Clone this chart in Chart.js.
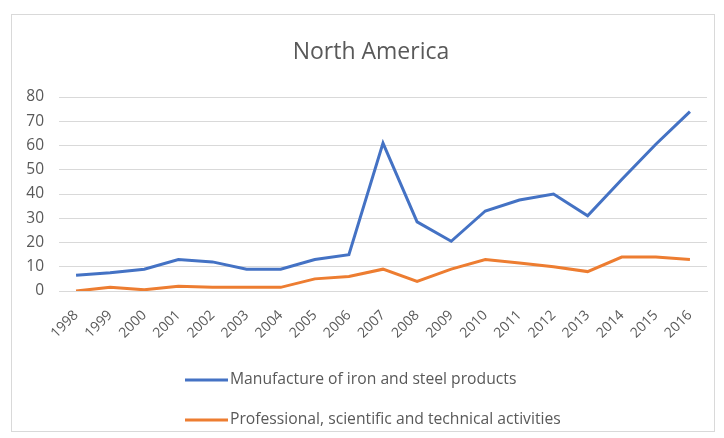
<!DOCTYPE html>
<html>
<head>
<meta charset="utf-8">
<script src="https://cdn.jsdelivr.net/npm/chart.js@4"></script>
<style>
  html, body { margin: 0; padding: 0; background: #fff; }
  #wrap { position: relative; width: 724px; height: 438px; }
  #frame {
    position: absolute; left: 11px; top: 14px; width: 704px; height: 418px;
    box-sizing: border-box; border: 1px solid #d9d9d9; pointer-events: none;
  }
</style>
</head>
<body>
<div id="wrap">
  <canvas id="chart" width="724" height="438"></canvas>
  <div id="frame"></div>
</div>
<script>
const chartTitle = "North America";
const years = ["1998","1999","2000","2001","2002","2003","2004","2005","2006","2007",
               "2008","2009","2010","2011","2012","2013","2014","2015","2016"];
const ironSteel = [6.5, 7.5, 9, 13, 12, 9, 9, 13, 15, 61, 28.5, 20.5, 33, 37.5, 40, 31, 46, 60.5, 74];
const professional = [0, 1.5, 0.5, 2, 1.5, 1.5, 1.5, 5, 6, 9, 4, 9, 13, 11.5, 10, 8, 14, 14, 13];
const yTicks = [0, 10, 20, 30, 40, 50, 60, 70, 80];

const textGray = "#595959";

// title centred over the plot like Excel does, and a stacked legend below
const excelDecor = {
    id: "excelDecor",
    afterDraw(chart) {
        const ctx = chart.ctx;
        ctx.save();
        ctx.fillStyle = textGray;
        ctx.textAlign = "center";
        ctx.textBaseline = "middle";
        ctx.font = "23px 'Open Sans'";
        ctx.fillText(chartTitle, 371, 52);

        const rows = [380, 420];
        ctx.font = "15.7px 'Open Sans'";
        ctx.textAlign = "left";
        chart.data.datasets.forEach((ds, i) => {
            const y = rows[i];
            ctx.strokeStyle = ds.borderColor;
            ctx.lineWidth = 3;
            ctx.beginPath();
            ctx.moveTo(185, y);
            ctx.lineTo(228, y);
            ctx.stroke();
            ctx.fillText(ds.label, 230, y);
        });
        ctx.restore();
    }
};

new Chart(document.getElementById("chart"), {
    type: "line",
    data: {
        labels: years,
        datasets: [
            {
                label: "Manufacture of iron and steel products",
                data: ironSteel,
                borderColor: "#4472C4",
                borderWidth: 3,
                pointRadius: 0,
                tension: 0
            },
            {
                label: "Professional, scientific and technical activities",
                data: professional,
                borderColor: "#ED7D31",
                borderWidth: 3,
                pointRadius: 0,
                tension: 0
            }
        ]
    },
    options: {
        responsive: false,
        animation: false,
        layout: { padding: { left: 14, right: 17, top: 97, bottom: 93 } },
        plugins: {
            legend: { display: false },
            tooltip: { enabled: false },
            title: { display: false }
        },
        scales: {
            x: {
                offset: true,
                grid: { display: false, drawTicks: false },
                border: { display: true, color: "#d9d9d9" },
                ticks: {
                    color: textGray,
                    font: { family: "'Open Sans'", size: 14 },
                    minRotation: 45,
                    maxRotation: 45,
                    padding: 16,
                    autoSkip: false
                },
                afterFit: s => { s.height = 54; }
            },
            y: {
                min: 0,
                max: 80,
                afterBuildTicks: s => { s.ticks = yTicks.map(v => ({ value: v })); },
                grid: { color: "#d9d9d9", drawTicks: false },
                border: { display: false },
                ticks: {
                    color: textGray,
                    font: { family: "'Open Sans'", size: 15.5 },
                    padding: 15,
                    callback: v => String(v)
                },
                afterFit: s => { s.width = 45; }
            }
        }
    },
    plugins: [excelDecor]
});
</script>
</body>
</html>
